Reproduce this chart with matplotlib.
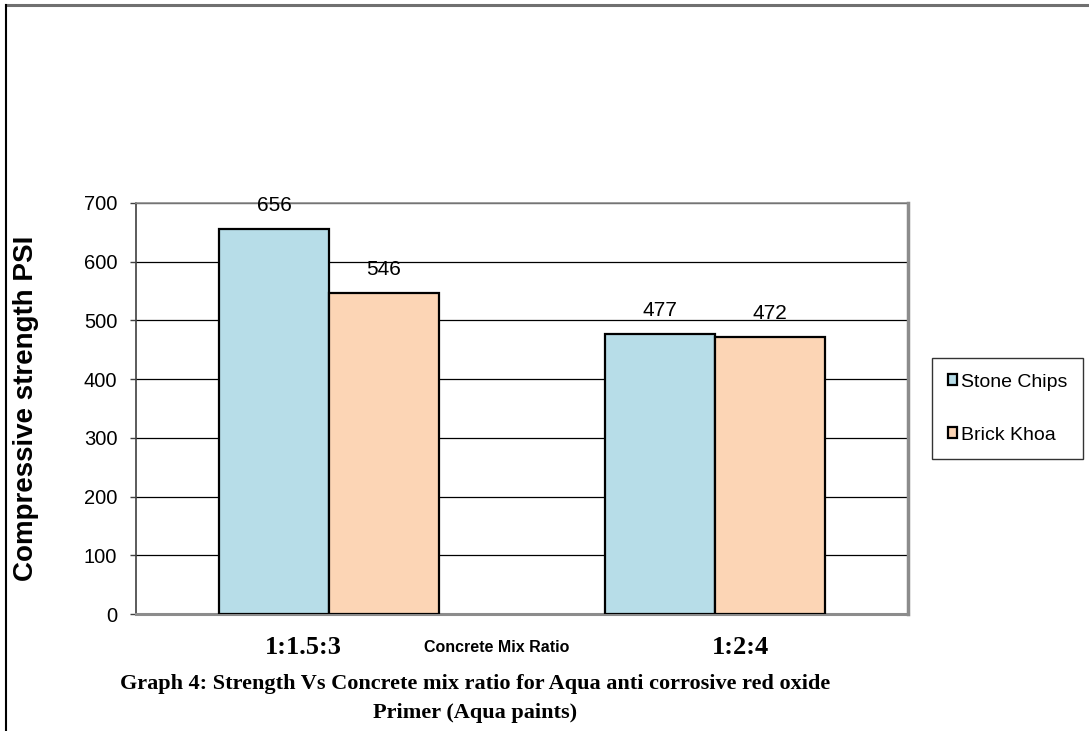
import matplotlib

matplotlib.use("Agg")
import matplotlib.pyplot as plt
import numpy as np
from matplotlib.lines import Line2D

# Chart data
CATEGORIES = ["1:1.5:3", "1:2:4"]
STONE_CHIPS = [656, 477]
BRICK_KHOA = [546, 472]
SERIES_NAMES = ["Stone Chips", "Brick Khoa"]
Y_TICKS = [0, 100, 200, 300, 400, 500, 600, 700]

BLUE = "#B7DDE8"
PEACH = "#FCD5B5"
GREY = "#8C8C8C"

plt.rcParams["font.family"] = ["Liberation Sans", "DejaVu Sans"]

fig = plt.figure(figsize=(10.89, 7.31), dpi=100)
ax = fig.add_axes([136 / 1089, 1 - 614 / 731, 772 / 1089, 411 / 731])

x = np.arange(len(CATEGORIES))
width = 0.285
bars_a = ax.bar(x - width / 2, STONE_CHIPS, width, color=BLUE, edgecolor="black",
                linewidth=1.6, label=SERIES_NAMES[0], zorder=3)
bars_b = ax.bar(x + width / 2, BRICK_KHOA, width, color=PEACH, edgecolor="black",
                linewidth=1.6, label=SERIES_NAMES[1], zorder=3)

for bars in (bars_a, bars_b):
    for rect in bars:
        h = rect.get_height()
        ax.annotate(f"{h:.0f}", (rect.get_x() + rect.get_width() / 2, h),
                    xytext=(0, 17), textcoords="offset points", ha="center", va="center",
                    fontsize=15)

ax.set_xlim(-0.5, 1.5)
ax.set_ylim(0, 700)
ax.set_yticks(Y_TICKS)
ax.tick_params(axis="y", labelsize=14.5, length=4, width=1, pad=9.5, color="#404040")
ax.set_xticks([])
ax.yaxis.grid(True, color="black", linewidth=0.9, zorder=0)
ax.set_axisbelow(True)

ax.spines["left"].set_color("#404040")
ax.spines["left"].set_linewidth(1.2)
ax.spines["bottom"].set_color(GREY)
ax.spines["bottom"].set_linewidth(2.2)
ax.spines["right"].set_color(GREY)
ax.spines["right"].set_linewidth(2.5)
ax.spines["top"].set_color(GREY)
ax.spines["top"].set_linewidth(1.2)

ax.set_ylabel("Compressive strength PSI", fontsize=20, fontweight="bold")
ax.yaxis.set_label_coords(-0.126, 0.5)

# category labels and axis title under the plot area
serif = ["Liberation Serif", "DejaVu Serif"]
fig.text(303 / 1089, 1 - 648 / 731, CATEGORIES[0], ha="center", va="center",
         fontsize=19, fontweight="bold", family=serif)
fig.text(741 / 1089, 1 - 648 / 731, CATEGORIES[1], ha="center", va="center",
         fontsize=19, fontweight="bold", family=serif)
fig.text(497 / 1089, 1 - 648 / 731, "Concrete Mix Ratio", ha="center", va="center",
         fontsize=11.5, fontweight="bold")

fig.text(475 / 1089, 1 - 684 / 731,
         "Graph 4: Strength Vs Concrete mix ratio for Aqua anti corrosive red oxide",
         ha="center", va="center", fontsize=16, fontweight="bold", family=serif)
fig.text(475 / 1089, 1 - 713 / 731, "Primer (Aqua paints)",
         ha="center", va="center", fontsize=16, fontweight="bold", family=serif)

leg = fig.legend(handles=[bars_a, bars_b], loc="upper left",
                 bbox_to_anchor=(932 / 1089, 1 - 358 / 731), fontsize=14,
                 frameon=True, fancybox=False, handlelength=0.5, handleheight=0.5,
                 handletextpad=0.2, labelspacing=1.85, borderpad=0.8, borderaxespad=0)
leg.get_frame().set_edgecolor("black")
leg.get_frame().set_linewidth(1.0)
for patch in leg.get_patches():
    patch.set_linewidth(1.6)

# outer frame lines along the top and left edges
fig.add_artist(Line2D([6 / 1089, 1], [1 - 5 / 731, 1 - 5 / 731], color="#707070",
                      linewidth=2.2, transform=fig.transFigure))
fig.add_artist(Line2D([6 / 1089, 6 / 1089], [0, 1 - 5 / 731], color="black",
                      linewidth=1.5, transform=fig.transFigure))

fig.savefig("out.png", dpi=100)
